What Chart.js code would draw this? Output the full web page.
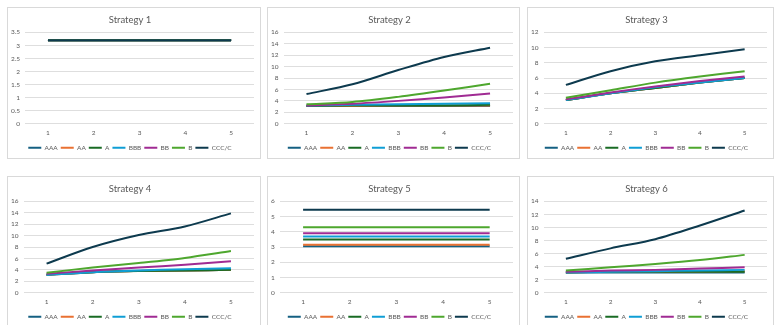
<!DOCTYPE html>
<html>
<head>
<meta charset="utf-8">
<script src="https://cdn.jsdelivr.net/npm/chart.js@4"></script>
<style>
  body { margin: 0; background: #fff; width: 774px; height: 325px; overflow: hidden; position: relative; }
  .panel { position: absolute; border: 1px solid #d9d9d9; box-sizing: border-box; background: #fff; }
  .panel canvas { display: block; }
</style>
</head>
<body>
<script>
// x axis categories and series names
const periods = ['1', '2', '3', '4', '5'];
const ratings = ['AAA', 'AA', 'A', 'BBB', 'BB', 'B', 'CCC/C'];
const seriesColors = ['#156082', '#E97132', '#196B24', '#0F9ED5', '#A02B93', '#4EA72E', '#0D3A4E'];

// one row per rating, same order as ratings
const strategy1 = [
  [3.2, 3.2, 3.2, 3.2, 3.2],
  [3.2, 3.2, 3.2, 3.2, 3.2],
  [3.2, 3.2, 3.2, 3.2, 3.2],
  [3.2, 3.2, 3.2, 3.2, 3.2],
  [3.2, 3.2, 3.2, 3.2, 3.2],
  [3.2, 3.2, 3.2, 3.2, 3.2],
  [3.2, 3.2, 3.2, 3.2, 3.2]
];
const strategy2 = [
  [3.1, 3.1, 3.1, 3.1, 3.1],
  [3.1, 3.1, 3.2, 3.2, 3.2],
  [3.1, 3.2, 3.2, 3.2, 3.3],
  [3.2, 3.3, 3.4, 3.5, 3.6],
  [3.2, 3.5, 4.0, 4.6, 5.3],
  [3.4, 3.8, 4.7, 5.8, 7.0],
  [5.2, 6.9, 9.4, 11.7, 13.3]
];
const strategy3 = [
  [3.1, 4.0, 4.7, 5.4, 6.0],
  [3.1, 4.0, 4.7, 5.4, 6.0],
  [3.1, 4.0, 4.7, 5.4, 6.0],
  [3.1, 4.0, 4.8, 5.4, 6.0],
  [3.2, 4.1, 4.9, 5.6, 6.2],
  [3.4, 4.4, 5.4, 6.2, 6.9],
  [5.1, 6.9, 8.2, 9.0, 9.8]
];
const strategy4 = [
  [3.1, 3.6, 3.8, 3.9, 4.0],
  [3.1, 3.6, 3.8, 3.9, 4.0],
  [3.2, 3.6, 3.8, 3.9, 4.0],
  [3.1, 3.6, 3.9, 4.1, 4.3],
  [3.3, 3.9, 4.4, 4.9, 5.5],
  [3.5, 4.4, 5.2, 6.1, 7.3],
  [5.1, 8.0, 10.1, 11.6, 13.9]
];
const strategy5 = [
  [3.05, 3.05, 3.05, 3.05, 3.05],
  [3.15, 3.15, 3.15, 3.15, 3.15],
  [3.5, 3.5, 3.5, 3.5, 3.5],
  [3.7, 3.7, 3.7, 3.7, 3.7],
  [3.9, 3.9, 3.9, 3.9, 3.9],
  [4.3, 4.3, 4.3, 4.3, 4.3],
  [5.45, 5.45, 5.45, 5.45, 5.45]
];
const strategy6 = [
  [3.1, 3.1, 3.1, 3.1, 3.1],
  [3.1, 3.2, 3.2, 3.2, 3.3],
  [3.1, 3.2, 3.2, 3.2, 3.2],
  [3.1, 3.2, 3.3, 3.4, 3.5],
  [3.2, 3.4, 3.5, 3.7, 3.9],
  [3.4, 3.9, 4.4, 5.0, 5.8],
  [5.2, 6.8, 8.2, 10.3, 12.6]
];

const titles = ['Strategy 1', 'Strategy 2', 'Strategy 3', 'Strategy 4', 'Strategy 5', 'Strategy 6'];
const allData = [strategy1, strategy2, strategy3, strategy4, strategy5, strategy6];
const yMax = [3.5, 16, 12, 16, 6, 14];
const yStep = [0.5, 2, 2, 2, 1, 2];

// panel boxes: left, top, width, height
const boxes = [
  [7, 7, 254, 152], [267, 7, 253, 152], [527, 7, 247, 152],
  [7, 176, 254, 152], [267, 176, 253, 152], [527, 176, 247, 152]
];

const fontFam = "Lato, 'Open Sans', sans-serif";
const grey = '#595959';

allData.forEach((rows, k) => {
  const [l, t, w, h] = boxes[k];
  const div = document.createElement('div');
  div.className = 'panel';
  div.style.left = l + 'px';
  div.style.top = t + 'px';
  div.style.width = w + 'px';
  div.style.height = h + 'px';
  const cv = document.createElement('canvas');
  cv.width = w - 2;
  cv.height = h - 2;
  div.appendChild(cv);
  document.body.appendChild(div);

  const datasets = rows.map((vals, i) => ({
    label: ratings[i],
    data: vals,
    borderColor: seriesColors[i],
    backgroundColor: seriesColors[i],
    borderWidth: 2,
    pointRadius: 0,
    tension: 0.3,
    order: ratings.length - i
  }));

  new Chart(cv, {
    type: 'line',
    data: { labels: periods, datasets: datasets },
    options: {
      responsive: false,
      animation: false,
      layout: { padding: { left: -2, right: 6, top: 0, bottom: -3 } },
      plugins: {
        title: {
          display: true,
          text: titles[k],
          color: grey,
          font: { family: fontFam, size: 9.5, weight: 'normal' },
          padding: { top: 6, bottom: 7 }
        },
        legend: {
          position: 'bottom',
          labels: {
            sort: (a, b) => a.datasetIndex - b.datasetIndex,
            usePointStyle: true,
            pointStyle: 'line',
            pointStyleWidth: 13,
            color: grey,
            font: { family: fontFam, size: 6.5 },
            padding: 3
          }
        },
        tooltip: { enabled: false }
      },
      scales: {
        x: {
          offset: true,
          grid: { display: false, drawTicks: false },
          border: { display: false },
          ticks: { color: grey, font: { family: fontFam, size: 6.5 }, padding: 5, maxRotation: 0, autoSkip: false }
        },
        y: {
          min: 0,
          max: yMax[k],
          grid: { color: '#dedede', lineWidth: 1, drawTicks: false },
          border: { display: false },
          ticks: {
            stepSize: yStep[k],
            autoSkip: false,
            color: grey,
            font: { family: fontFam, size: 6.5 },
            padding: 5,
            callback: v => String(v)
          }
        }
      }
    }
  });
});
</script>
</body>
</html>
